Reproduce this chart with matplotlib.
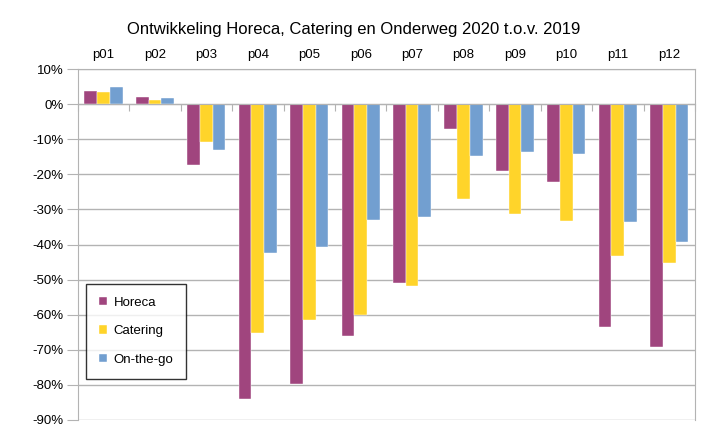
import numpy as np
import matplotlib.pyplot as plt
from matplotlib.ticker import FuncFormatter

plt.rcParams['font.family'] = ['Liberation Sans', 'DejaVu Sans']

periods = ['p01', 'p02', 'p03', 'p04', 'p05', 'p06', 'p07', 'p08', 'p09', 'p10', 'p11', 'p12']
horeca = [3.9, 2.1, -17.4, -84.0, -79.8, -66.2, -51.0, -7.0, -18.9, -22.2, -63.4, -69.3]
catering = [3.5, 1.3, -10.7, -65.1, -61.6, -60.0, -51.9, -27.0, -31.4, -33.4, -43.3, -45.2]
onthego = [5.0, 1.8, -13.0, -42.3, -40.6, -33.1, -32.1, -14.7, -13.6, -14.2, -33.6, -39.2]

series = [('Horeca', horeca, '#A0457E'),
          ('Catering', catering, '#FFD42A'),
          ('On-the-go', onthego, '#729FD0')]

fig = plt.figure(figsize=(7.07, 4.43), dpi=100)
ax = fig.add_axes([0.110, 0.052, 0.873, 0.792])

x = np.arange(len(periods))
w = 0.247
for i, (name, vals, col) in enumerate(series):
    ax.bar(x + (i - 1) * w, vals, w, color=col, label=name,
           edgecolor='white', linewidth=0.3, zorder=3)

ax.set_xlim(-0.5, len(periods) - 0.5)
ax.set_ylim(-90, 10)
ax.set_yticks(np.arange(-90, 11, 10))
ax.yaxis.set_major_formatter(FuncFormatter(lambda v, p: '%d%%' % v))
ax.yaxis.grid(True, color='#b3b3b3', linewidth=1, zorder=0)
ax.tick_params(axis='y', length=8, color='#b3b3b3', labelsize=9.5, pad=2)

# x axis drawn at zero, ticks between categories
ax.spines['bottom'].set_position(('data', 0))
ax.set_xticks(np.arange(len(periods) + 1) - 0.5)
ax.set_xticklabels([])
ax.tick_params(axis='x', direction='out', length=5, color='#b3b3b3')
for s in ax.spines.values():
    s.set_color('#b3b3b3')
    s.set_zorder(4)

top = ax.secondary_xaxis('top')
top.set_xticks(x)
top.set_xticklabels(periods, fontsize=9.5)
top.tick_params(length=0, pad=6)
top.spines['top'].set_visible(False)

fig.suptitle('Ontwikkeling Horeca, Catering en Onderweg 2020 t.o.v. 2019',
             fontsize=12, x=0.5, y=0.95)

leg = ax.legend(loc='lower left', bbox_to_anchor=(0.013, 0.117), fontsize=9.5,
                frameon=True, fancybox=False, edgecolor='black',
                handlelength=0.6, handleheight=0.6, labelspacing=1.25,
                borderpad=1.0, handletextpad=0.5, borderaxespad=0)
leg.get_frame().set_linewidth(1)
leg.set_zorder(5)

fig.savefig('out.png', dpi=100)
